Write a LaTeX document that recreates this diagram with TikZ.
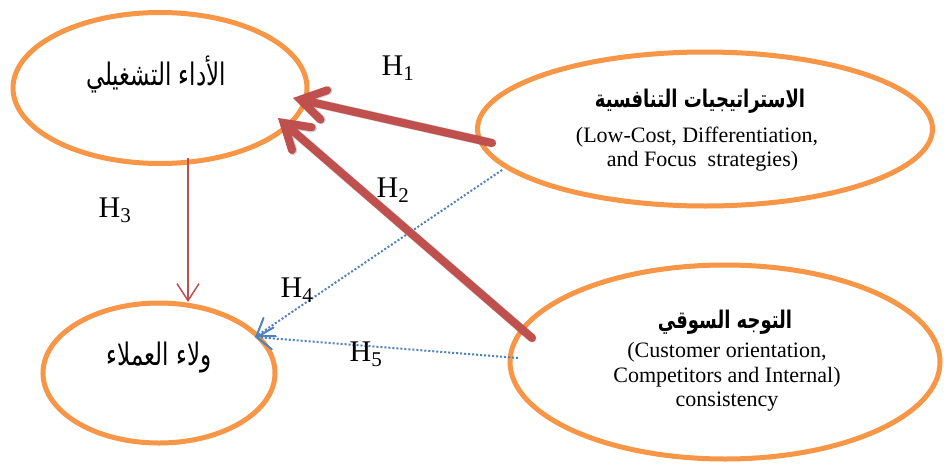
\documentclass[tikz,border=0pt]{standalone}
\usepackage{fontspec}
\setmainfont{Liberation Serif}
\newfontfamily\arabicfont[Script=Arabic]{DejaVu Sans}
\TeXXeTstate=1
\usetikzlibrary{shapes.geometric,arrows.meta}
\definecolor{ellorange}{HTML}{F79646}
\definecolor{arrred}{HTML}{C0504D}
\definecolor{arrblue}{HTML}{4F81BD}
\newcommand{\artall}[1]{\scalebox{1}[1.35]{#1}}
\begin{document}
\begin{tikzpicture}[x=1pt,y=-1pt,
  ell/.style={ellipse,draw=ellorange,line width=5pt,fill=white,inner sep=0pt},
  artext/.style={font=\arabicfont\fontsize{23}{27}\selectfont},
  artextb/.style={font=\arabicfont\bfseries\fontsize{18}{22}\selectfont},
  entext/.style={font=\fontsize{22}{24.5}\selectfont,align=center},
  hlabel/.style={font=\fontsize{30}{34}\selectfont},
  bigarrow/.style={draw=arrred,line width=8pt,line cap=round,
     -{Straight Barb[length=24pt,width=30pt,line cap=round]}},
  bigshadow/.style={draw=black,opacity=0.18,line width=9pt,line cap=round,
     -{Straight Barb[length=24pt,width=30pt,line cap=round]}},
  thinarrow/.style={draw=arrred,line width=1.5pt,-{Straight Barb[length=17pt,width=22pt]}},
  dotarrow/.style={draw=arrblue,line width=2pt,dash pattern=on 2pt off 2pt,
     -{Straight Barb[length=16pt,width=22pt,line cap=round]}}
]
\path[use as bounding box,fill=white] (0,0) rectangle (944,466);

% ellipses
\node[ell,minimum width=294pt,minimum height=151pt] (e1) at (160,88) {};
\node[ell,minimum width=455pt,minimum height=154pt] (e2) at (705,129) {};
\node[ell,minimum width=430pt,minimum height=194pt] (e3) at (725,362) {};
\node[ell,minimum width=232pt,minimum height=140pt] (e4) at (159,373) {};

% texts
\node[artext] (t1) at (156,74) {\artall{\beginR الأداء التشغيلي\endR}};
\node[artext] (t4) at (159,357) {\artall{\beginR ولاء العملاء\endR}};
\node[artextb] (t2) at (700,101) {\artall{\beginR الاستراتيجيات التنافسية\endR}};
\node[entext] (t2b) at (697,149) {(Low-Cost, Differentiation,\\ \ \ and Focus\ \ strategies)};
\node[artextb] (t3) at (725,322) {\artall{\beginR التوجه السوقي\endR}};
\node[entext] (t3b) at (727,377) {(Customer orientation,\\ Competitors and Internal)\\ consistency};

% connector end points
\coordinate (h1s) at (492,143);
\coordinate (h1e) at (293,98);
\coordinate (h2s) at (532,338);
\coordinate (h2e) at (278,118);
\coordinate (h3s) at (188,158);
\coordinate (h3e) at (188,302);
\coordinate (h4s) at (502,170);
\coordinate (h5s) at (518,358);
\coordinate (h45e) at (255,337);

% shadows of the thick arrows
\begin{scope}[shift={(2,3)}]
\draw[bigshadow] (h1s) -- (h1e);
\draw[bigshadow] (h2s) -- (h2e);
\end{scope}

% connectors
\draw[thinarrow] (h3s) -- (h3e);
\draw[dotarrow] (h4s) -- (h45e);
\draw[dotarrow] (h5s) -- (h45e);
\draw[bigarrow] (h1s) -- (h1e);
\draw[bigarrow] (h2s) -- (h2e);

% labels
\node[hlabel] (l1) at (398,68) {H\textsubscript{1}};
\node[hlabel] (l2) at (393,190) {H\textsubscript{2}};
\node[hlabel] (l3) at (115,210) {H\textsubscript{3}};
\node[hlabel] (l4) at (297,290) {H\textsubscript{4}};
\node[hlabel] (l5) at (366,354) {H\textsubscript{5}};
\end{tikzpicture}
\end{document}
